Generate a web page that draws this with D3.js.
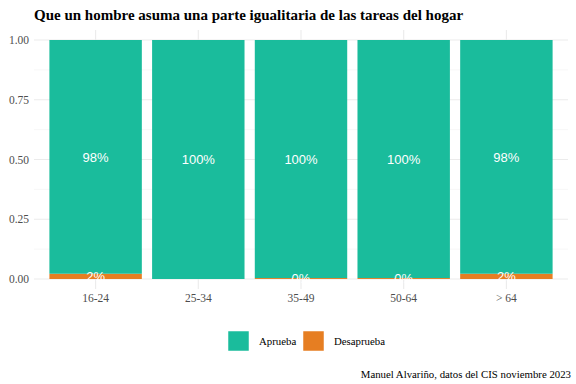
<!DOCTYPE html>
<html>
<head>
<meta charset="utf-8">
<script src="https://cdn.jsdelivr.net/npm/d3@7"></script>
<style>
  body { margin: 0; background: #fff; }
  svg { display: block; }
</style>
</head>
<body>
<svg id="canvas" width="576" height="384"></svg>
<script>
let grupos = ['16-24', '25-34', '35-49', '50-64', '> 64']
let aprueba = [0.978, 1.0, 0.996, 0.996, 0.978]
let desaprueba = [0.022, null, 0.004, 0.004, 0.022]
let series = ['Aprueba', 'Desaprueba']
let colores = ['#1abc9c', '#e67e22']
let yTicks = [0, 0.25, 0.5, 0.75, 1]

let width = 576
let height = 384
let margin = { top: 40, right: 8, bottom: 105, left: 34 }

let canvas = d3.select('#canvas')

let x = d3.scaleBand()
          .domain(grupos)
          .range([margin.left, width - margin.right])
          .paddingInner(0.1)
          .paddingOuter(0.15)

let y = d3.scaleLinear()
          .domain([0, 1])
          .range([279, 40])

// grid
let minor = [0.125, 0.375, 0.625, 0.875]
canvas.selectAll('.minor')
      .data(minor)
      .enter()
      .append('line')
      .attr('x1', margin.left).attr('x2', width - margin.right)
      .attr('y1', d => y(d)).attr('y2', d => y(d))
      .attr('stroke', '#f2f2f2').attr('stroke-width', 0.6)
canvas.selectAll('.major')
      .data(yTicks)
      .enter()
      .append('line')
      .attr('x1', margin.left).attr('x2', width - margin.right)
      .attr('y1', d => y(d)).attr('y2', d => y(d))
      .attr('stroke', '#ebebeb').attr('stroke-width', 1.1)
canvas.selectAll('.vgrid')
      .data(grupos)
      .enter()
      .append('line')
      .attr('x1', d => x(d) + x.bandwidth() / 2).attr('x2', d => x(d) + x.bandwidth() / 2)
      .attr('y1', 30).attr('y2', 289)
      .attr('stroke', '#ebebeb').attr('stroke-width', 1.1)

// bars
let filas = grupos.map((g, i) => ({ grupo: g, Aprueba: aprueba[i], Desaprueba: desaprueba[i] || 0, hay: desaprueba[i] !== null }))
let stack = d3.stack().keys(['Desaprueba', 'Aprueba'])(filas)

stack.forEach(capa => {
    let color = colores[series.indexOf(capa.key)]
    canvas.append('g')
          .selectAll('rect')
          .data(capa)
          .enter()
          .append('rect')
          .attr('x', d => x(d.data.grupo))
          .attr('width', x.bandwidth())
          .attr('y', d => y(d[1]))
          .attr('height', d => y(d[0]) - y(d[1]))
          .attr('fill', color)
})

stack.forEach(capa => {
    canvas.append('g')
          .selectAll('text')
          .data(capa.filter(d => capa.key === 'Aprueba' || d.data.hay))
          .enter()
          .append('text')
          .attr('x', d => x(d.data.grupo) + x.bandwidth() / 2)
          .attr('y', d => y((d[0] + d[1]) / 2))
          .attr('dy', '0.36em')
          .attr('text-anchor', 'middle')
          .attr('font-family', 'Liberation Sans, Arial, sans-serif')
          .attr('font-size', 13)
          .attr('fill', '#ffffff')
          .text(d => Math.round((d[1] - d[0]) * 100) + '%')
})

// axes labels
canvas.selectAll('.ytick')
      .data(yTicks)
      .enter()
      .append('text')
      .attr('x', 29)
      .attr('y', d => y(d))
      .attr('dy', '0.35em')
      .attr('text-anchor', 'end')
      .attr('font-family', 'Liberation Serif, Times New Roman, serif')
      .attr('font-size', 11.5)
      .attr('fill', '#4d4d4d')
      .text(d => d.toFixed(2))

canvas.selectAll('.xtick')
      .data(grupos)
      .enter()
      .append('text')
      .attr('x', d => x(d) + x.bandwidth() / 2)
      .attr('y', 302)
      .attr('text-anchor', 'middle')
      .attr('font-family', 'Liberation Serif, Times New Roman, serif')
      .attr('font-size', 11.5)
      .attr('fill', '#4d4d4d')
      .text(d => d)

// title
canvas.append('text')
      .attr('x', 34)
      .attr('y', 20)
      .attr('font-family', 'Liberation Serif, Times New Roman, serif')
      .attr('font-weight', 'bold')
      .attr('font-size', 15)
      .attr('fill', '#000')
      .text('Que un hombre asuma una parte igualitaria de las tareas del hogar')

// legend
let legX = [228, 303]
series.forEach((s, i) => {
    canvas.append('rect')
          .attr('x', legX[i]).attr('y', 331)
          .attr('width', 21).attr('height', 20)
          .attr('fill', colores[i])
          .attr('stroke', '#ffffff').attr('stroke-width', 0.5)
    canvas.append('text')
          .attr('x', legX[i] + 31)
          .attr('y', 341)
          .attr('dy', '0.35em')
          .attr('font-family', 'Liberation Serif, Times New Roman, serif')
          .attr('font-size', 10.8)
          .attr('fill', '#000')
          .text(s)
})

// caption
canvas.append('text')
      .attr('x', 571)
      .attr('y', 378)
      .attr('text-anchor', 'end')
      .attr('font-family', 'Liberation Serif, Times New Roman, serif')
      .attr('font-size', 10.8)
      .attr('fill', '#000')
      .text('Manuel Alvariño, datos del CIS noviembre 2023')
</script>
</body>
</html>
